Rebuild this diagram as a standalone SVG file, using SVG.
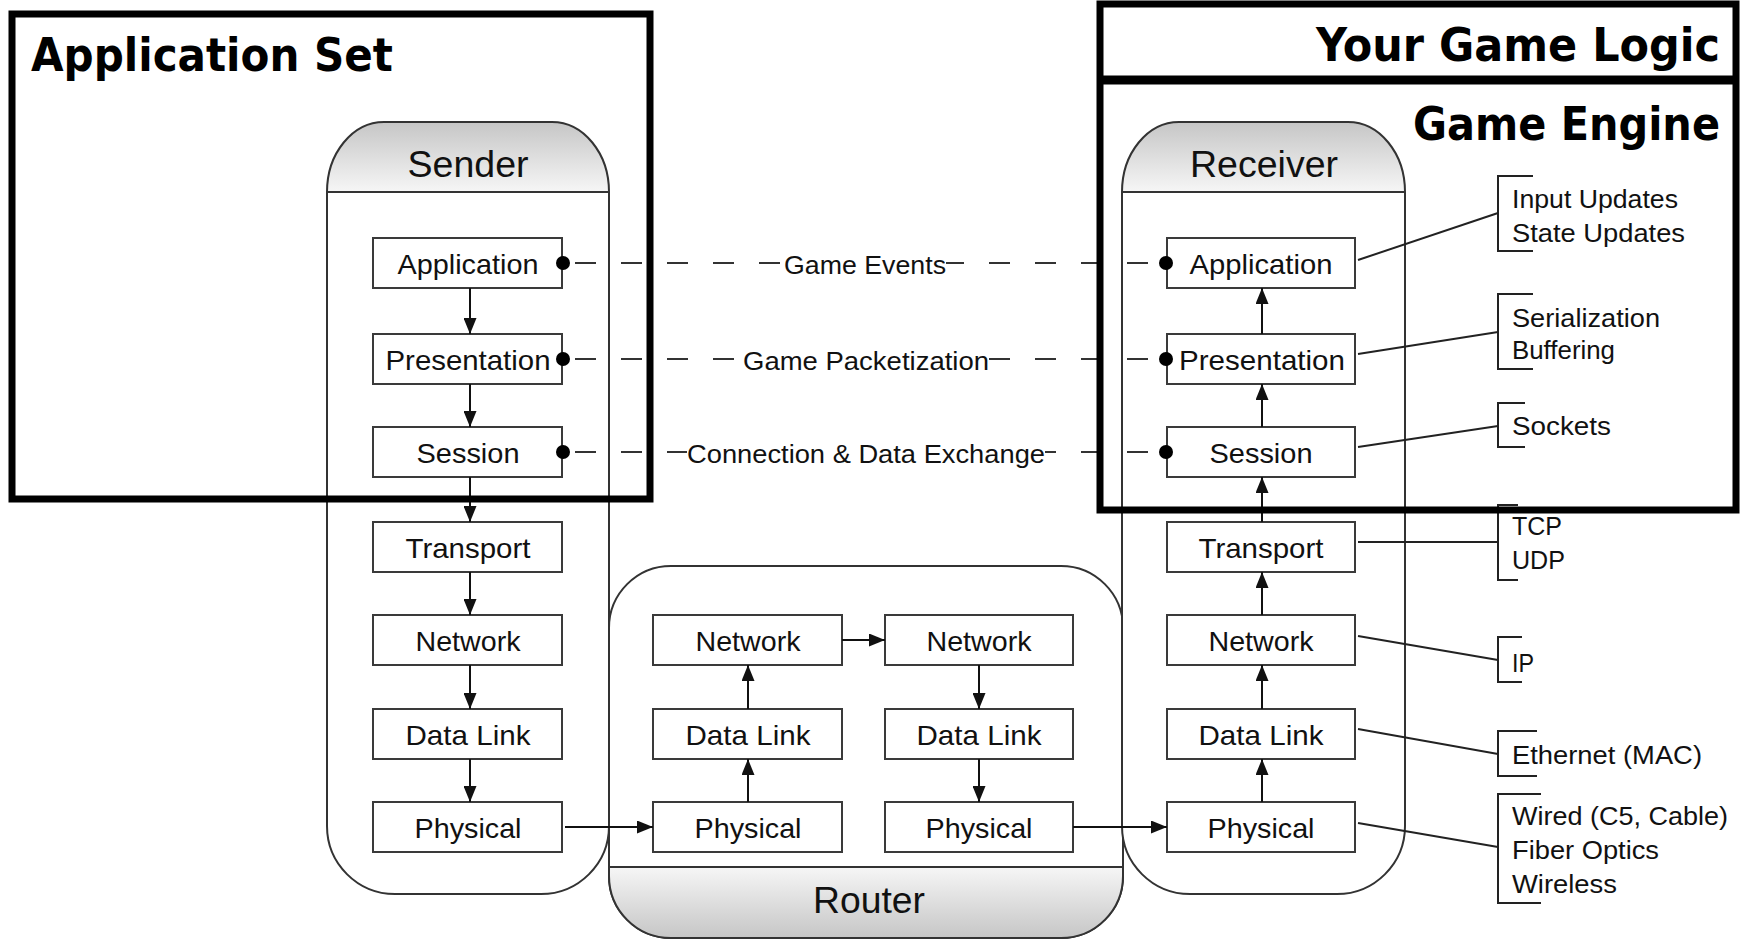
<svg xmlns="http://www.w3.org/2000/svg" width="1748" height="940" viewBox="0 0 1748 940">
<defs>
<linearGradient id="hdr" x1="0" y1="0" x2="0" y2="1">
<stop offset="0" stop-color="#c6c6c6"/>
<stop offset="1" stop-color="#f6f6f6"/>
</linearGradient>
<linearGradient id="ftr" x1="0" y1="0" x2="0" y2="1">
<stop offset="0" stop-color="#f6f6f6"/>
<stop offset="1" stop-color="#c6c6c6"/>
</linearGradient>
<marker id="ah" markerUnits="userSpaceOnUse" markerWidth="16" markerHeight="13" refX="16" refY="6.5" orient="auto">
<path d="M0,0 L16,6.5 L0,13 Z" fill="#111"/>
</marker>
<style>
.pill{fill:#fff;stroke:#333;stroke-width:2}
.hdr{fill:url(#hdr);stroke:#333;stroke-width:2}
.ftr{fill:url(#ftr);stroke:#333;stroke-width:2}
.box{fill:#fff;stroke:#3a3a3a;stroke-width:2}
.lbl{font-family:"Liberation Sans",Arial,sans-serif;font-size:28px;fill:#111;text-anchor:middle}
.hd{font-family:"Liberation Sans",Arial,sans-serif;font-size:36px;fill:#111;text-anchor:middle}
.mid{font-family:"Liberation Sans",Arial,sans-serif;font-size:25px;fill:#111;text-anchor:middle}
.ann{font-family:"Liberation Sans",Arial,sans-serif;font-size:25px;fill:#111}
.ttl{font-family:"DejaVu Sans Condensed","DejaVu Sans",sans-serif;font-stretch:condensed;font-weight:bold;font-size:46px;fill:#000}
.arr{stroke:#111;stroke-width:2;fill:none;marker-end:url(#ah)}
.dash{stroke:#333;stroke-width:2;fill:none;stroke-dasharray:21 25}
.ln{stroke:#222;stroke-width:2;fill:none}
.dot{fill:#000}
.frame{fill:none;stroke:#000;stroke-width:7}
</style>
</defs>
<rect width="1748" height="940" fill="#fff"/>

<g id="router">
<rect class="pill" x="609" y="566" width="514" height="372" rx="62" ry="62"/>
<path class="ftr" d="M609,867 H1123 V876 A62,62 0 0 1 1061,938 H671 A62,62 0 0 1 609,876 Z"/>
<text class="hd" x="869" y="913" textLength="112" lengthAdjust="spacingAndGlyphs">Router</text>
</g>

<g id="sender">
<path class="pill" d="M327,192 V826 A68,68 0 0 0 395,894 H541 A68,68 0 0 0 609,826 V192"/>
<path class="hdr" d="M327,192 A57,70 0 0 1 384,122 H552 A57,70 0 0 1 609,192 Z"/>
<text class="hd" x="468" y="177" textLength="121" lengthAdjust="spacingAndGlyphs">Sender</text>
</g>

<g id="receiver">
<path class="pill" d="M1122,192 V826 A68,68 0 0 0 1190,894 H1337 A68,68 0 0 0 1405,826 V192"/>
<path class="hdr" d="M1122,192 A57,70 0 0 1 1179,122 H1348 A57,70 0 0 1 1405,192 Z"/>
<text class="hd" x="1264" y="177" textLength="148" lengthAdjust="spacingAndGlyphs">Receiver</text>
</g>

<g id="sender-layers">
<g id="s-app"><rect class="box" x="373" y="238" width="189" height="50"/><text class="lbl" x="468" y="274" textLength="141" lengthAdjust="spacingAndGlyphs">Application</text></g>
<g id="s-pre"><rect class="box" x="373" y="334" width="189" height="50"/><text class="lbl" x="468" y="370" textLength="165" lengthAdjust="spacingAndGlyphs">Presentation</text></g>
<g id="s-ses"><rect class="box" x="373" y="427" width="189" height="50"/><text class="lbl" x="468" y="463" textLength="103" lengthAdjust="spacingAndGlyphs">Session</text></g>
<g id="s-tra"><rect class="box" x="373" y="522" width="189" height="50"/><text class="lbl" x="468" y="558" textLength="125" lengthAdjust="spacingAndGlyphs">Transport</text></g>
<g id="s-net"><rect class="box" x="373" y="615" width="189" height="50"/><text class="lbl" x="468" y="651" textLength="105" lengthAdjust="spacingAndGlyphs">Network</text></g>
<g id="s-dl"><rect class="box" x="373" y="709" width="189" height="50"/><text class="lbl" x="468" y="745" textLength="125" lengthAdjust="spacingAndGlyphs">Data Link</text></g>
<g id="s-phy"><rect class="box" x="373" y="802" width="189" height="50"/><text class="lbl" x="468" y="838" textLength="107" lengthAdjust="spacingAndGlyphs">Physical</text></g>
</g>

<g id="router-layers">
<g id="r1-net"><rect class="box" x="653" y="615" width="189" height="50"/><text class="lbl" x="748" y="651" textLength="105" lengthAdjust="spacingAndGlyphs">Network</text></g>
<g id="r1-dl"><rect class="box" x="653" y="709" width="189" height="50"/><text class="lbl" x="748" y="745" textLength="125" lengthAdjust="spacingAndGlyphs">Data Link</text></g>
<g id="r1-phy"><rect class="box" x="653" y="802" width="189" height="50"/><text class="lbl" x="748" y="838" textLength="107" lengthAdjust="spacingAndGlyphs">Physical</text></g>
<g id="r2-net"><rect class="box" x="885" y="615" width="188" height="50"/><text class="lbl" x="979" y="651" textLength="105" lengthAdjust="spacingAndGlyphs">Network</text></g>
<g id="r2-dl"><rect class="box" x="885" y="709" width="188" height="50"/><text class="lbl" x="979" y="745" textLength="125" lengthAdjust="spacingAndGlyphs">Data Link</text></g>
<g id="r2-phy"><rect class="box" x="885" y="802" width="188" height="50"/><text class="lbl" x="979" y="838" textLength="107" lengthAdjust="spacingAndGlyphs">Physical</text></g>
</g>

<g id="receiver-layers">
<g id="v-app"><rect class="box" x="1167" y="238" width="188" height="50"/><text class="lbl" x="1261" y="274" textLength="143" lengthAdjust="spacingAndGlyphs">Application</text></g>
<g id="v-pre"><rect class="box" x="1167" y="334" width="188" height="50"/><text class="lbl" x="1262" y="370" textLength="166" lengthAdjust="spacingAndGlyphs">Presentation</text></g>
<g id="v-ses"><rect class="box" x="1167" y="427" width="188" height="50"/><text class="lbl" x="1261" y="463" textLength="103" lengthAdjust="spacingAndGlyphs">Session</text></g>
<g id="v-tra"><rect class="box" x="1167" y="522" width="188" height="50"/><text class="lbl" x="1261" y="558" textLength="125" lengthAdjust="spacingAndGlyphs">Transport</text></g>
<g id="v-net"><rect class="box" x="1167" y="615" width="188" height="50"/><text class="lbl" x="1261" y="651" textLength="105" lengthAdjust="spacingAndGlyphs">Network</text></g>
<g id="v-dl"><rect class="box" x="1167" y="709" width="188" height="50"/><text class="lbl" x="1261" y="745" textLength="125" lengthAdjust="spacingAndGlyphs">Data Link</text></g>
<g id="v-phy"><rect class="box" x="1167" y="802" width="188" height="50"/><text class="lbl" x="1261" y="838" textLength="107" lengthAdjust="spacingAndGlyphs">Physical</text></g>
</g>

<g id="connectors">
<line class="arr" x1="470" y1="288" x2="470" y2="334"/>
<line class="arr" x1="470" y1="384" x2="470" y2="427"/>
<line class="arr" x1="470" y1="477" x2="470" y2="522"/>
<line class="arr" x1="470" y1="572" x2="470" y2="615"/>
<line class="arr" x1="470" y1="665" x2="470" y2="709"/>
<line class="arr" x1="470" y1="759" x2="470" y2="802"/>
<line class="arr" x1="565" y1="827" x2="653" y2="827"/>
<line class="arr" x1="748" y1="802" x2="748" y2="759"/>
<line class="arr" x1="748" y1="709" x2="748" y2="665"/>
<line class="arr" x1="842" y1="640" x2="885" y2="640"/>
<line class="arr" x1="979" y1="665" x2="979" y2="709"/>
<line class="arr" x1="979" y1="759" x2="979" y2="802"/>
<line class="arr" x1="1073" y1="827" x2="1167" y2="827"/>
<line class="arr" x1="1262" y1="802" x2="1262" y2="759"/>
<line class="arr" x1="1262" y1="709" x2="1262" y2="665"/>
<line class="arr" x1="1262" y1="615" x2="1262" y2="572"/>
<line class="arr" x1="1262" y1="522" x2="1262" y2="477"/>
<line class="arr" x1="1262" y1="427" x2="1262" y2="384"/>
<line class="arr" x1="1262" y1="334" x2="1262" y2="288"/>

<line class="dash" x1="575" y1="263" x2="1160" y2="263"/>
<line class="dash" x1="575" y1="359" x2="1160" y2="359"/>
<line class="dash" x1="575" y1="452" x2="1160" y2="452"/>
<circle class="dot" cx="563" cy="263" r="7"/>
<circle class="dot" cx="1166" cy="263" r="7"/>
<circle class="dot" cx="563" cy="359" r="7"/>
<circle class="dot" cx="1166" cy="359" r="7"/>
<circle class="dot" cx="563" cy="452" r="7"/>
<circle class="dot" cx="1166" cy="452" r="7"/>
<rect x="784" y="249" width="162" height="30" fill="#fff"/>
<rect x="743" y="345" width="246" height="30" fill="#fff"/>
<rect x="687" y="438" width="358" height="30" fill="#fff"/>
<text class="mid" x="865" y="274" textLength="162" lengthAdjust="spacingAndGlyphs">Game Events</text>
<text class="mid" x="866" y="370" textLength="246" lengthAdjust="spacingAndGlyphs">Game Packetization</text>
<text class="mid" x="866" y="463" textLength="358" lengthAdjust="spacingAndGlyphs">Connection &amp; Data Exchange</text>

<line class="ln" x1="1358" y1="260" x2="1498" y2="213"/>
<line class="ln" x1="1358" y1="354" x2="1498" y2="332"/>
<line class="ln" x1="1358" y1="447" x2="1498" y2="426"/>
<line class="ln" x1="1358" y1="542" x2="1498" y2="542"/>
<line class="ln" x1="1358" y1="636" x2="1498" y2="660"/>
<line class="ln" x1="1358" y1="729" x2="1498" y2="754"/>
<line class="ln" x1="1358" y1="823" x2="1498" y2="847"/>
</g>

<g id="annotations">
<g id="an-app"><path class="ln" d="M1533,176 H1498 V251 H1533"/><text class="ann" x="1512" y="208" textLength="166" lengthAdjust="spacingAndGlyphs">Input Updates</text><text class="ann" x="1512" y="242" textLength="173" lengthAdjust="spacingAndGlyphs">State Updates</text></g>
<g id="an-pre"><path class="ln" d="M1533,294 H1498 V369 H1533"/><text class="ann" x="1512" y="327" textLength="148" lengthAdjust="spacingAndGlyphs">Serialization</text><text class="ann" x="1512" y="359" textLength="103" lengthAdjust="spacingAndGlyphs">Buffering</text></g>
<g id="an-ses"><path class="ln" d="M1525,403 H1498 V447 H1525"/><text class="ann" x="1512" y="435" textLength="99" lengthAdjust="spacingAndGlyphs">Sockets</text></g>
<g id="an-tra"><path class="ln" d="M1518,505 H1498 V580 H1518"/><text class="ann" x="1512" y="535" textLength="50" lengthAdjust="spacingAndGlyphs">TCP</text><text class="ann" x="1512" y="569" textLength="53" lengthAdjust="spacingAndGlyphs">UDP</text></g>
<g id="an-net"><path class="ln" d="M1522,637 H1498 V682 H1522"/><text class="ann" x="1512" y="672" textLength="22" lengthAdjust="spacingAndGlyphs">IP</text></g>
<g id="an-dl"><path class="ln" d="M1537,731 H1498 V776 H1537"/><text class="ann" x="1512" y="764" textLength="190" lengthAdjust="spacingAndGlyphs">Ethernet (MAC)</text></g>
<g id="an-phy"><path class="ln" d="M1541,794 H1498 V903 H1541"/><text class="ann" x="1512" y="825" textLength="216" lengthAdjust="spacingAndGlyphs">Wired (C5, Cable)</text><text class="ann" x="1512" y="859" textLength="147" lengthAdjust="spacingAndGlyphs">Fiber Optics</text><text class="ann" x="1512" y="893" textLength="105" lengthAdjust="spacingAndGlyphs">Wireless</text></g>
</g>

<g id="application-set">
<rect class="frame" x="12" y="14" width="638" height="485"/>
<text class="ttl" x="31" y="71" textLength="362" lengthAdjust="spacingAndGlyphs">Application Set</text>
</g>

<g id="game-frames">
<rect class="frame" x="1100" y="4" width="636" height="506"/>
<line x1="1100" y1="80" x2="1736" y2="80" stroke="#000" stroke-width="9"/>
<text class="ttl" x="1720" y="61" text-anchor="end" textLength="404" lengthAdjust="spacingAndGlyphs">Your Game Logic</text>
<text class="ttl" x="1720" y="140" text-anchor="end" textLength="307" lengthAdjust="spacingAndGlyphs">Game Engine</text>
</g>
</svg>
